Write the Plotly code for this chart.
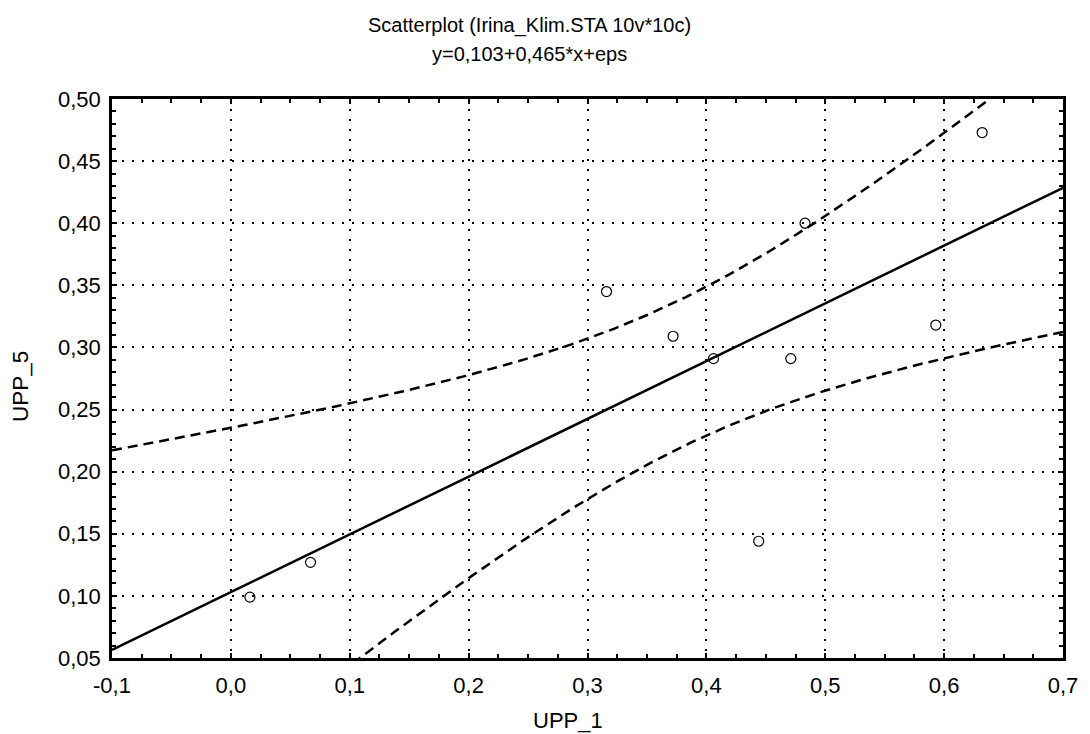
import numpy as np
import plotly.graph_objects as go

# Observations
upp_1 = [0.016, 0.067, 0.316, 0.372, 0.406, 0.471, 0.444, 0.483, 0.593, 0.632]
upp_5 = [0.099, 0.127, 0.345, 0.309, 0.291, 0.291, 0.144, 0.400, 0.318, 0.473]

# Fitted model, as printed in the header
intercept = 0.103
slope = 0.465
t_crit = 2.306  # Student t, 0.975 quantile, df = 8

title_line1 = "Scatterplot (Irina_Klim.STA 10v*10c)"
title_line2 = "y=0,103+0,465*x+eps"
x_label = "UPP_1"
y_label = "UPP_5"

x_ticks = [-0.1, 0.0, 0.1, 0.2, 0.3, 0.4, 0.5, 0.6, 0.7]
x_tick_labels = ["-0,1", "0,0", "0,1", "0,2", "0,3", "0,4", "0,5", "0,6", "0,7"]
y_ticks = [0.05, 0.10, 0.15, 0.20, 0.25, 0.30, 0.35, 0.40, 0.45, 0.50]
y_tick_labels = ["0,05", "0,10", "0,15", "0,20", "0,25", "0,30", "0,35", "0,40", "0,45", "0,50"]

x_range = [-0.1, 0.7]
y_range = [0.05, 0.50]

# 95% confidence band for the regression line
x = np.array(upp_1)
y = np.array(upp_5)
n = len(x)
resid = y - (intercept + slope * x)
s = np.sqrt(np.sum(resid ** 2) / (n - 2))
sxx = np.sum((x - x.mean()) ** 2)
xs = np.linspace(x_range[0], x_range[1], 200)
fit = intercept + slope * xs
half = t_crit * s * np.sqrt(1.0 / n + (xs - x.mean()) ** 2 / sxx)

FONT = "Liberation Sans, Arial, sans-serif"

fig = go.Figure()
fig.add_trace(go.Scatter(x=xs, y=fit + half, mode="lines",
                         line=dict(color="black", width=2.5, dash="10px,6px"),
                         hoverinfo="skip"))
fig.add_trace(go.Scatter(x=xs, y=fit - half, mode="lines",
                         line=dict(color="black", width=2.5, dash="10px,6px"),
                         hoverinfo="skip"))
fig.add_trace(go.Scatter(x=[x_range[0], x_range[1]],
                         y=[intercept + slope * x_range[0], intercept + slope * x_range[1]],
                         mode="lines", line=dict(color="black", width=2.5)))
fig.add_trace(go.Scatter(x=upp_1, y=upp_5, mode="markers",
                         marker=dict(symbol="circle-open", size=10, color="black",
                                     line=dict(width=1.2, color="black")),
                         cliponaxis=False))

axis_common = dict(
    showline=True, linecolor="black", linewidth=2.5, mirror="allticks",
    ticks="inside", ticklen=5, tickwidth=2, tickcolor="black",
    showgrid=True, gridcolor="black", gridwidth=2, griddash="2px,8px",
    zeroline=False,
    tickfont=dict(family=FONT, size=22, color="black"),
)

fig.update_xaxes(range=x_range, tickmode="array", tickvals=x_ticks, ticktext=x_tick_labels,
                 minor=dict(dtick=0.025, tick0=0, ticks="inside", ticklen=4, tickwidth=2,
                            tickcolor="black", showgrid=False),
                 ticklabelstandoff=6, **axis_common)
fig.update_yaxes(range=y_range, tickmode="array", tickvals=y_ticks, ticktext=y_tick_labels,
                 minor=dict(dtick=0.01, tick0=0, ticks="inside", ticklen=4, tickwidth=2,
                            tickcolor="black", showgrid=False),
                 ticklabelstandoff=4, **axis_common)

fig.update_layout(
    width=1090, height=734,
    margin=dict(l=112, r=18, t=99, b=76),
    paper_bgcolor="white", plot_bgcolor="white",
    showlegend=False,
    font=dict(family=FONT, color="black"),
    annotations=[
        dict(text=title_line1, xref="paper", yref="paper", x=0.4385, y=1.132,
             xanchor="center", yanchor="middle", showarrow=False,
             font=dict(size=20, family=FONT)),
        dict(text=title_line2, xref="paper", yref="paper", x=0.4385, y=1.081,
             xanchor="center", yanchor="middle", showarrow=False,
             font=dict(size=20, family=FONT)),
        dict(text=x_label, xref="paper", yref="paper", x=0.4797, y=-0.112,
             xanchor="center", yanchor="middle", showarrow=False,
             font=dict(size=22, family=FONT)),
        dict(text=y_label, xref="paper", yref="paper", x=-0.096, y=0.486,
             xanchor="center", yanchor="middle", showarrow=False, textangle=-90,
             font=dict(size=22.5, family=FONT)),
    ],
)

fig.write_html("out.html")
